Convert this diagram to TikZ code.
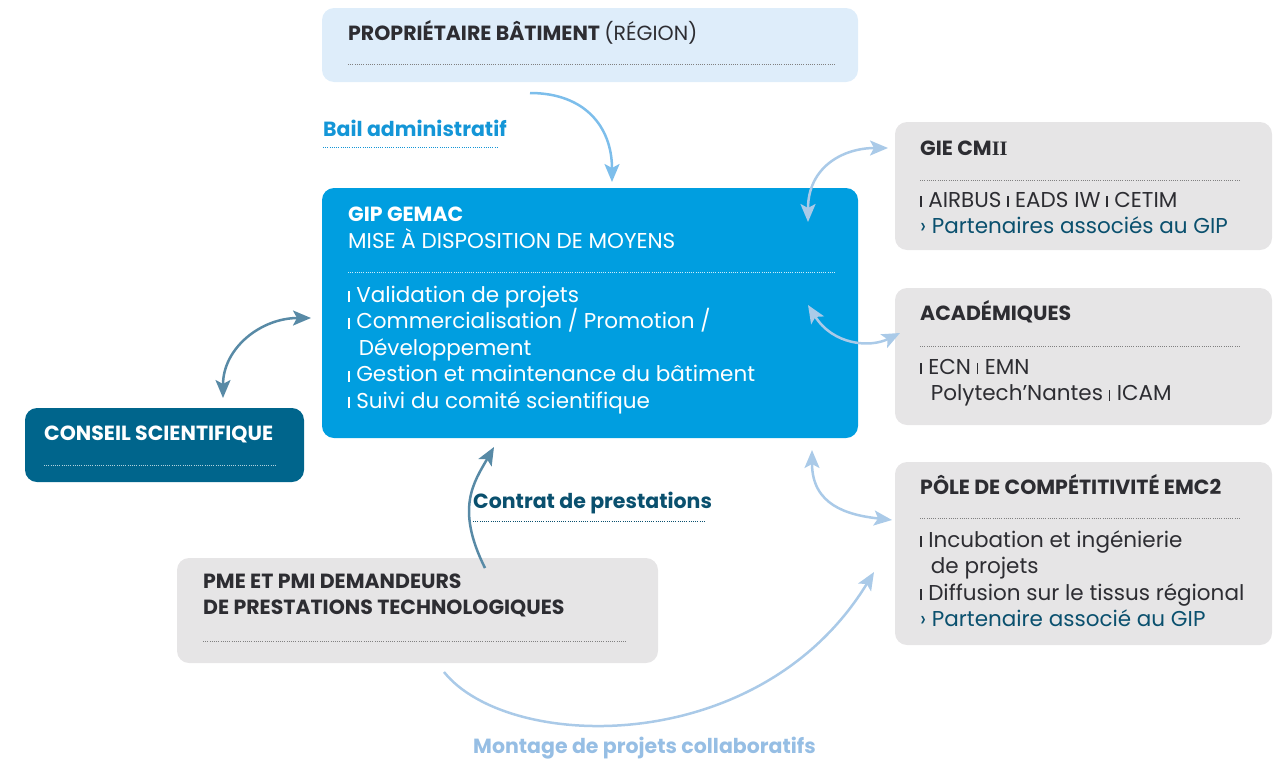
\documentclass[tikz,border=0pt]{standalone}
\usepackage{fontspec}
\setmainfont{Poppins}
\newfontfamily\numeralfont{Liberation Serif}
\usetikzlibrary{arrows.meta, positioning, calc}

\definecolor{gemacblue}{RGB}{0,158,224}
\definecolor{paleblue}{RGB}{222,237,250}
\definecolor{panelgrey}{RGB}{230,229,230}
\definecolor{conseilteal}{RGB}{0,101,140}
\definecolor{deepteal}{RGB}{10,80,110}
\definecolor{steelarrow}{RGB}{88,138,166}
\definecolor{skyarrow}{RGB}{125,190,235}
\definecolor{mistarrow}{RGB}{170,202,232}
\definecolor{inktext}{RGB}{45,45,50}
\definecolor{baillabel}{RGB}{20,150,215}
\definecolor{montagelabel}{RGB}{150,190,228}

\newcommand{\itemmark}{\rule{1.6pt}{0.5em}\hspace{0.3em}}
\newcommand{\itemgap}{\hspace*{0.5em}}

\tikzset{
    panel/.style={rounded corners=12pt, inner sep=0pt, outer sep=0pt, anchor=north west},
    headtext/.style={anchor=base west, inner sep=0pt, font=\fontsize{20.5}{26}\selectfont\bfseries, text=inktext},
    labeltext/.style={anchor=base west, inner sep=0pt, font=\fontsize{20.5}{26}\selectfont\bfseries},
    bodytext/.style={anchor=base west, inner sep=0pt, align=left, font=\fontsize{21.5}{26.5}\selectfont, text=inktext},
    dotrule/.style={line width=0.8pt, dash pattern=on 0.8pt off 1.4pt},
    oneway/.style={line width=2.5pt, -{Stealth[length=18pt, width=15pt, inset=4pt]}},
    twoway/.style={line width=2.5pt, {Stealth[length=18pt, width=15pt, inset=4pt]}-{Stealth[length=18pt, width=15pt, inset=4pt]}}
}

\begin{document}
\begin{tikzpicture}[x=1pt, y=-1pt]
    \useasboundingbox (0,0) rectangle (1277,758);

    % boxes
    \node[panel, fill=paleblue, minimum width=536, minimum height=74] (prop) at (322,8) {};
    \node[panel, fill=gemacblue, minimum width=536, minimum height=250] (gemac) at (322,188) {};
    \node[panel, fill=conseilteal, minimum width=279, minimum height=74] (conseil) at (25,408) {};
    \node[panel, fill=panelgrey, minimum width=481, minimum height=105] (pme) at (177,558) {};
    \node[panel, fill=panelgrey, minimum width=377, minimum height=128] (gie) at (895,122) {};
    \node[panel, fill=panelgrey, minimum width=377, minimum height=137] (acad) at (895,288) {};
    \node[panel, fill=panelgrey, minimum width=377, minimum height=183] (pole) at (895,462) {};

    % texts (multi-line nodes sit on their last baseline)
    \node[headtext] (proptitle) at (348,40) {PROPRIÉTAIRE BÂTIMENT \mdseries(RÉGION)};
    \draw[dotrule, draw=gray] (348,64) -- (836,64);

    \node[headtext, text=white] (gemactitle) at (348,221) {GIP GEMAC};
    \node[bodytext, text=white] (gemacsub) at (348,248) {MISE À DISPOSITION DE MOYENS};
    \draw[dotrule, draw=white!80!gemacblue] (348,272) -- (836,272);
    \node[bodytext, text=white] (gemacitems) at (348,408) {\itemmark Validation de projets\\
        \itemmark Commercialisation / Promotion /\\
        \itemgap Développement\\
        \itemmark Gestion et maintenance du bâtiment\\
        \itemmark Suivi du comité scientifique};

    \node[headtext, text=white] (conseiltitle) at (44,440) {CONSEIL SCIENTIFIQUE};
    \draw[dotrule, draw=white!70!conseilteal] (44,465) -- (276,465);

    \node[headtext, align=left] (pmetitle) at (203,614) {PME ET PMI DEMANDEURS\\DE PRESTATIONS TECHNOLOGIQUES};
    \draw[dotrule, draw=gray] (203,641) -- (626,641);

    \node[headtext] (gietitle) at (920,155) {GIE CM{\numeralfont II}};
    \draw[dotrule, draw=gray] (920,180) -- (1240,180);
    \node[bodytext] (gieitems) at (920,233.5) {\itemmark AIRBUS \itemmark EADS IW \itemmark CETIM\\
        \textcolor{deepteal}{› Partenaires associés au GIP}};

    \node[headtext] (acadtitle) at (920,320) {ACADÉMIQUES};
    \draw[dotrule, draw=gray] (920,346) -- (1240,346);
    \node[bodytext] (acaditems) at (920,400.5) {\itemmark ECN \itemmark EMN\\
        \itemgap Polytech’Nantes \itemmark ICAM};

    \node[headtext] (poletitle) at (920,494) {PÔLE DE COMPÉTITIVITÉ EMC2};
    \draw[dotrule, draw=gray] (920,518) -- (1240,518);
    \node[bodytext] (poleitems) at (920,626.5) {\itemmark Incubation et ingénierie\\
        \itemgap de projets\\
        \itemmark Diffusion sur le tissus régional\\
        \textcolor{deepteal}{› Partenaire associé au GIP}};

    % labels
    \node[labeltext, text=baillabel] (bail) at (323,136) {Bail administratif};
    \draw[dotrule, draw=baillabel] (323,147) -- (497,147);
    \node[labeltext, text=deepteal] (contrat) at (473,508) {Contrat de prestations};
    \draw[dotrule, draw=deepteal] (473,521) -- (705,521);
    \node[labeltext, text=montagelabel] (montage) at (473,753) {Montage de projets collaboratifs};

    % arrows
    \draw[oneway, draw=skyarrow] ([shift={(208,11)}]prop.south west) .. controls +(55,0) and +(0,-55) .. ([shift={(290,-6)}]gemac.north west);
    \draw[twoway, draw=mistarrow] ([shift={(-50,34)}]gemac.north east) .. controls +(0,-55) and +(-45,0) .. ([shift={(-7,26)}]gie.north west);
    \draw[twoway, draw=mistarrow] ([shift={(-50,117)}]gemac.north east) .. controls +(25,40) and +(-30,15) .. ([shift={(5,45)}]acad.north west);
    \draw[twoway, draw=mistarrow] ([shift={(-46,12)}]gemac.south east) .. controls +(0,55) and +(-45,-5) .. ([shift={(-3,58)}]pole.north west);
    \draw[twoway, draw=steelarrow] ([shift={(-11,130)}]gemac.north west) .. controls +(-50,0) and +(0,-50) .. ([shift={(198,-10)}]conseil.north west);
    \draw[oneway, draw=steelarrow] ([shift={(308,10)}]pme.north west) .. controls +(-30,-60) and +(-20,35) .. ([shift={(172,9)}]gemac.south west);
    \draw[oneway, draw=mistarrow] ([shift={(267,9)}]pme.south west) .. controls +(64,80) and +(-114,187) .. ([shift={(-21,110)}]pole.north west);
\end{tikzpicture}
\end{document}
